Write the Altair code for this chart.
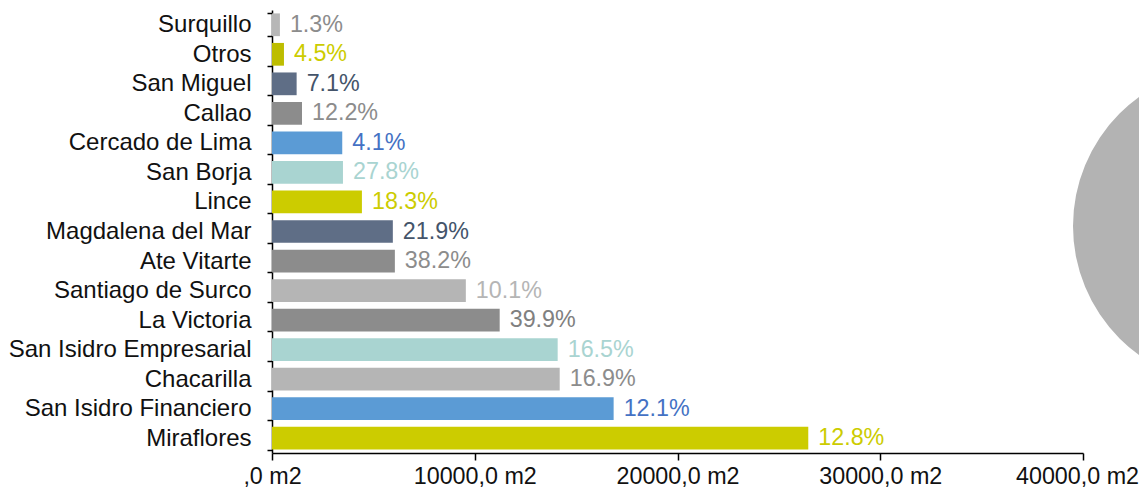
import altair as alt
import pandas as pd

categories = ["Surquillo", "Otros", "San Miguel", "Callao", "Cercado de Lima",
              "San Borja", "Lince", "Magdalena del Mar", "Ate Vitarte",
              "Santiago de Surco", "La Victoria", "San Isidro Empresarial",
              "Chacarilla", "San Isidro Financiero", "Miraflores"]
area_m2 = [390, 590, 1215, 1480, 3465, 3500, 4435, 5960, 6060, 9560,
           11230, 14090, 14190, 16850, 26450]
pct_labels = ["1.3%", "4.5%", "7.1%", "12.2%", "4.1%", "27.8%", "18.3%", "21.9%",
              "38.2%", "10.1%", "39.9%", "16.5%", "16.9%", "12.1%", "12.8%"]
x_ticks = [0, 10000, 20000, 30000, 40000]

bar_colors = ["#b7b7b7", "#bdbd00", "#5f6e86", "#8c8c8c", "#5b9bd5", "#a9d4d1",
              "#cccc00", "#5f6e86", "#8c8c8c", "#b5b5b5", "#8c8c8c", "#a9d4d1",
              "#b5b5b5", "#5b9bd5", "#cccc00"]
label_colors = ["#8c8c8c", "#cccc00", "#44546a", "#8c8c8c", "#4472c4", "#a9d4d1",
                "#cccc00", "#44546a", "#8c8c8c", "#b5b5b5", "#808080", "#a9d4d1",
                "#8c8c8c", "#4472c4", "#cccc00"]

FONT = "Liberation Sans"

df = pd.DataFrame({"zona": categories, "area": area_m2, "pct": pct_labels})
df["zona_lbl"] = df["zona"]

y_scale = alt.Scale(paddingInner=0.23, paddingOuter=0.115)
y_enc = alt.Y("zona:N", sort=categories, scale=y_scale,
              axis=alt.Axis(title=None, tickBand="extent", labelFontSize=24,
                            labelFont=FONT, labelColor="#111111", labelPadding=16,
                            labelLimit=0,
                            tickSize=5, tickColor="#000000", tickWidth=1.5,
                            domainColor="#000000", domainWidth=1.5))
x_enc = alt.X("area:Q", scale=alt.Scale(domain=[0, 40000], nice=False),
              axis=alt.Axis(title=None, values=x_ticks, grid=False,
                            labelExpr="(datum.value == 0 ? '' : format(datum.value, 'd')) + ',0 m2'",
                            labelFontSize=23.3, labelFont=FONT, labelColor="#111111",
                            labelPadding=5, tickSize=7, tickColor="#000000",
                            tickWidth=1.5, domainColor="#000000", domainWidth=1.5,
                            labelOffset={"condition": {"test": "datum.value >= 40000", "value": -6}, "value": 0},
                            labelOverlap=False, labelFlush=False, labelLimit=0))

circle = alt.Chart(pd.DataFrame({"d": [0]})).mark_circle(
    size=101124, color="#b3b3b3", opacity=1, clip=False
).encode(x=alt.value(960), y=alt.value(216))

bars = alt.Chart(df).mark_bar().encode(
    x=x_enc, y=y_enc,
    color=alt.Color("zona:N", scale=alt.Scale(domain=categories, range=bar_colors), legend=None),
)

labels = alt.Chart(df).mark_text(
    align="left", baseline="middle", dx=10, fontSize=23.3, font=FONT
).encode(
    x="area:Q",
    y=alt.Y("zona:N", sort=categories),
    text="pct:N",
    color=alt.Color("zona_lbl:N", scale=alt.Scale(domain=categories, range=label_colors), legend=None),
)

chart = alt.layer(circle, bars, labels).resolve_scale(color="independent").properties(
    width=811, height=443,
    autosize=alt.AutoSizeParams(type="none"),
    padding={"left": 264, "top": 2, "right": 56, "bottom": 35},
).configure_view(stroke=None)

chart.save("out.html", embed_options={"renderer": "svg", "actions": False})
